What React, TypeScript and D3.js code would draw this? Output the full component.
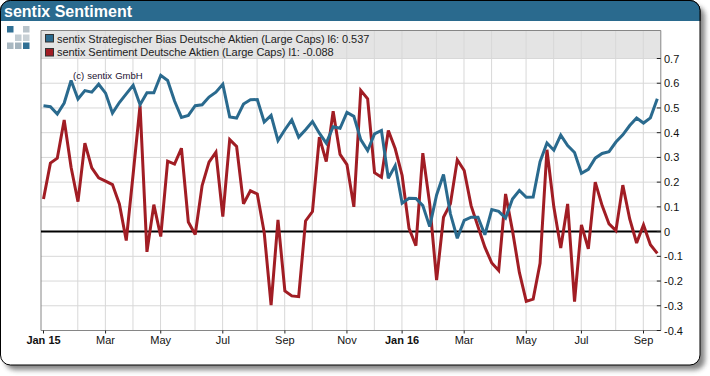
import React from "react";
import * as d3 from "d3";

const biasValues = [
  0.509, 0.505, 0.475, 0.52, 0.611, 0.536, 0.57, 0.564, 0.596, 0.56, 0.479, 0.522, 0.557, 0.592, 0.513,
  0.561, 0.561, 0.632, 0.611, 0.528, 0.462, 0.47, 0.509, 0.513, 0.544, 0.564, 0.596, 0.464, 0.459, 0.516,
  0.533, 0.534, 0.443, 0.47, 0.368, 0.412, 0.452, 0.382, 0.412, 0.445, 0.398, 0.358, 0.424, 0.418, 0.482,
  0.466, 0.372, 0.328, 0.395, 0.409, 0.216, 0.267, 0.115, 0.135, 0.134, 0.105, 0.02, 0.148, 0.231, 0.072,
  -0.027, 0.045, 0.058, 0.058, -0.013, 0.089, 0.082, 0.055, 0.132, 0.166, 0.139, 0.14, 0.283, 0.358, 0.329,
  0.39, 0.348, 0.32, 0.236, 0.252, 0.297, 0.316, 0.323, 0.362, 0.391, 0.429, 0.459, 0.439, 0.46, 0.537,
];
const sentimentValues = [
  0.132, 0.277, 0.297, 0.451, 0.26, 0.121, 0.358, 0.258, 0.217, 0.204, 0.19, 0.112, -0.036, 0.233, 0.51,
  -0.082, 0.109, -0.02, 0.285, 0.273, 0.337, 0.039, -0.012, 0.186, 0.281, 0.321, 0.061, 0.372, 0.344, 0.112,
  0.165, 0.152, -0.003, -0.297, 0.047, -0.24, -0.26, -0.263, 0.043, 0.081, 0.382, 0.283, 0.487, 0.312, 0.271,
  0.1, 0.571, 0.537, 0.238, 0.22, 0.409, 0.335, 0.227, 0.013, -0.057, 0.317, 0.112, -0.196, 0.058, 0.112,
  0.29, 0.247, 0.105, 0.02, -0.063, -0.127, -0.157, 0.152, 0.004, -0.165, -0.282, -0.273, -0.128, 0.331, 0.099,
  -0.066, 0.112, -0.283, 0.027, -0.07, 0.2, 0.105, 0.031, 0.004, 0.188, 0.051, -0.046, 0.027, -0.053, -0.088,
];
const monthGridWeeks = [5, 9, 13, 17, 22, 26, 31, 35, 39, 44, 48, 52, 57, 61, 65, 70, 74, 78, 83, 87];
const labelWeeks = [0, 9, 17, 26, 35, 44, 52, 61, 70, 78, 87];
const labelTexts = ["Jan 15", "Mar", "May", "Jul", "Sep", "Nov", "Jan 16", "Mar", "May", "Jul", "Sep"];
const boldLabels = ["Jan 15", "Jan 16"];
const yTicks = [-0.4, -0.3, -0.2, -0.1, 0, 0.1, 0.2, 0.3, 0.4, 0.5, 0.6, 0.7];
const yTickLabels = ["-0.4", "-0.3", "-0.2", "-0.1", "0", "0.1", "0.2", "0.3", "0.4", "0.5", "0.6", "0.7"];
const legendLabels = [
  "sentix Strategischer Bias Deutsche Aktien (Large Caps) l6: 0.537",
  "sentix Sentiment Deutsche Aktien (Large Caps) l1: -0.088",
];
const titleText = "sentix Sentiment";
const copyrightText = "(c) sentix GmbH";
const BLUE = "#2a6a8e";
const RED = "#a11d24";
const FONT = "Liberation Sans, Arial, sans-serif";

export default function App() {
  const x = d3.scaleLinear().domain([0, 89]).range([43.5, 657.3]);
  const y = d3.scaleLinear().domain([-0.4, 0.7]).range([330.5, 58.5]);
  const line = d3
    .line<number>()
    .x((_, i) => x(i))
    .y((d) => y(d));
  const L = 41;
  const R = 660.8;
  const T = 30.5;
  const B = 330.5;
  const grid = "#d8d8d8";
  const axis = "#868686";
  const logoCells: [number, number, string][] = [
    [7, 26, "#2f6f94"],
    [23, 26, "#b9c4cb"],
    [15, 34.5, "#c2ccd2"],
    [23, 34.5, "#c9d1d6"],
    [7, 42.5, "#a9b8c1"],
    [15, 42.5, "#a3b3bd"],
    [23, 42.5, "#2f6f94"],
  ];
  return (
    <svg
      width={710}
      height={376}
      style={{ position: "absolute", left: 0, top: 0, background: "#fff" }}
      fontFamily={FONT}
    >
      <defs>
        <filter id="sh" x="-5%" y="-5%" width="110%" height="110%">
          <feGaussianBlur stdDeviation="2.5" />
        </filter>
        <clipPath id="head">
          <rect x={0} y={0} width={710} height={21} />
        </clipPath>
      </defs>
      <rect x={5} y={6} width={700} height={364} rx={10} fill="#444" opacity={0.65} filter="url(#sh)" />
      <rect x={0.5} y={0.5} width={699.5} height={364.5} rx={10} fill="#fff" stroke="#000" />
      <rect x={0.5} y={0.5} width={699.5} height={364.5} rx={10} fill={BLUE} clipPath="url(#head)" stroke="#000" />
      <text x={4} y={17} fill="#fff" fontWeight="bold" fontSize={16}>
        {titleText}
      </text>
      {logoCells.map(([cx, cy, c], i) => (
        <rect key={i} x={cx} y={cy} width={6.5} height={6.5} fill={c} />
      ))}
      <rect x={L} y={T} width={R - L} height={y(0.7) - T} fill="#e4e4e4" />
      {monthGridWeeks.map((w) => (
        <line key={w} x1={x(w) - 0.2} x2={x(w) - 0.2} y1={T} y2={B} stroke={grid} strokeWidth={1} />
      ))}
      {yTicks.map((t) => (
        <line key={t} x1={L} x2={R} y1={y(t)} y2={y(t)} stroke={grid} strokeWidth={1} />
      ))}
      <path d={`M${L},${B}V${T}H${R}V${B}H${L}`} fill="none" stroke={axis} strokeWidth={1} />
      <line x1={L} x2={R} y1={y(0)} y2={y(0)} stroke="#000" strokeWidth={2} />
      <path d={line(sentimentValues) ?? ""} fill="none" stroke={RED} strokeWidth={3} strokeLinejoin="miter" strokeMiterlimit={3} />
      <path d={line(biasValues) ?? ""} fill="none" stroke={BLUE} strokeWidth={3} strokeLinejoin="miter" strokeMiterlimit={3} />
      {legendLabels.map((l, i) => (
        <g key={l}>
          <rect x={45.5} y={34.5 + i * 14} width={8} height={7.5} fill={i === 0 ? BLUE : RED} stroke="#333" />
          <text x={57} y={42.5 + i * 13.8} fontSize={11} fill="#222" letterSpacing={-0.06}>
            {l}
          </text>
        </g>
      ))}
      <text x={73} y={78.5} fontSize={9.5} fill="#1a1030" wordSpacing={0.5}>
        {copyrightText}
      </text>
      {labelWeeks.map((w, i) => (
        <g key={i}>
          <line x1={x(w)} x2={x(w)} y1={B} y2={B + 3} stroke="#222" />
          <text
            x={x(w)}
            y={344}
            textAnchor="middle"
            fontSize={11}
            fontWeight={boldLabels.includes(labelTexts[i]) ? "bold" : "normal"}
            fill="#111"
          >
            {labelTexts[i]}
          </text>
        </g>
      ))}
      {yTicks.map((t, i) => (
        <g key={t}>
          <line x1={R - 4} x2={R} y1={y(t)} y2={y(t)} stroke="#222" />
          <text x={664} y={y(t) + 4} fontSize={11} fill="#111">
            {yTickLabels[i]}
          </text>
        </g>
      ))}
    </svg>
  );
}
